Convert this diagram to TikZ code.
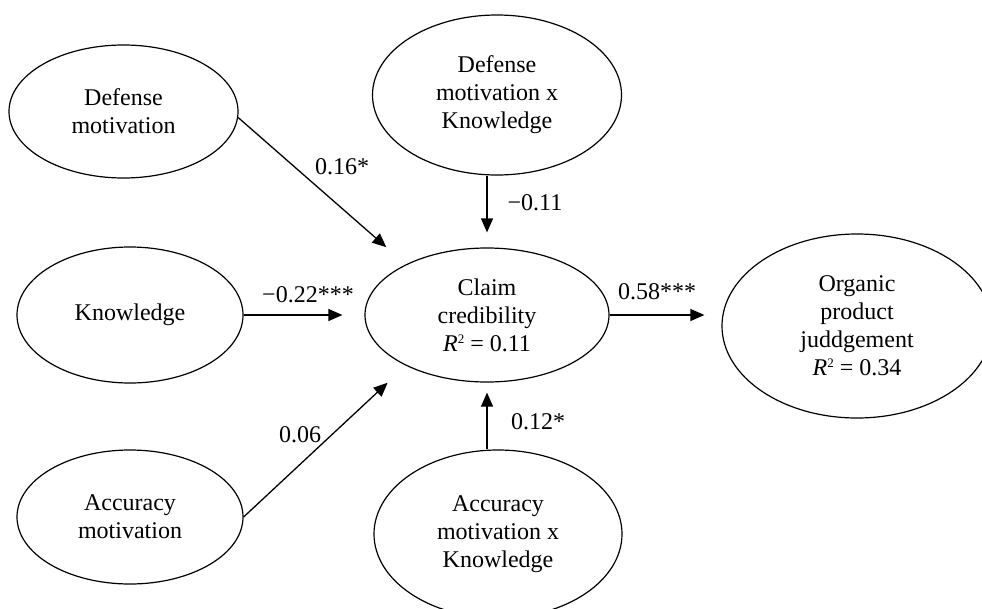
\documentclass[tikz,border=0pt]{standalone}
\usepackage{fontspec}
\setmainfont{Liberation Serif}
\usetikzlibrary{arrows.meta,shapes.geometric}
\newcommand{\rsq}{\textit{R}\raisebox{8pt}{\fontsize{13}{13}\selectfont 2}}
\begin{document}
\begin{tikzpicture}[x=1pt,y=-1pt,
  latent/.style={ellipse,draw,line width=1.2pt,inner sep=0pt,align=center,font=\fontsize{24}{28}\selectfont},
  pathar/.style={line width=1.3pt,-{Triangle[length=14pt,width=12pt]}},
  coef/.style={font=\fontsize{24}{28}\selectfont,inner sep=0pt}]
\useasboundingbox (0,0) rectangle (982,608);
\clip (0,0) rectangle (982,608);
\node[latent,minimum width=229pt,minimum height=133pt] (dm) at (123.5,111.5) {Defense\\motivation};
\node[latent,minimum width=226pt,minimum height=136pt] (kn) at (130,315) {Knowledge};
\node[latent,minimum width=226pt,minimum height=134pt] (am) at (130,517) {Accuracy\\motivation};
\node[latent,minimum width=249pt,minimum height=160pt] (dmk) at (497,95) {Defense\\motivation x\\Knowledge};
\node[latent,minimum width=244pt,minimum height=134pt] (cc) at (487,315) {Claim\\credibility\\\rsq{} = 0.11};
\node[latent,minimum width=248pt,minimum height=168pt] (amk) at (498,534) {Accuracy\\motivation x\\Knowledge};
\node[latent,minimum width=270pt,minimum height=184pt] (op) at (857,326) {Organic\\product\\juddgement\\\rsq{} = 0.34};
\draw[pathar,shorten >=26pt] (dm.-3) -- (cc.148);
\draw[pathar,shorten >=22pt] (kn.east) -- (cc.west);
\draw[pathar,shorten >=25pt] (am.east) -- (cc.212);
\draw[pathar,shorten >=15pt] (dmk.south -| cc.north) -- (cc.north);
\draw[pathar,shorten >=10pt] (amk.north -| cc.south) -- (cc.south);
\draw[pathar,shorten >=17pt] (cc.east) -- (cc.east -| op.west);
\node[coef] (l1) at (342,167) {0.16*};
\node[coef] (l2) at (308,295) {−0.22***};
\node[coef] (l3) at (300,435) {0.06};
\node[coef] (l4) at (535,203) {−0.11};
\node[coef] (l5) at (538,422) {0.12*};
\node[coef] (l6) at (657,292) {0.58***};
\end{tikzpicture}
\end{document}
